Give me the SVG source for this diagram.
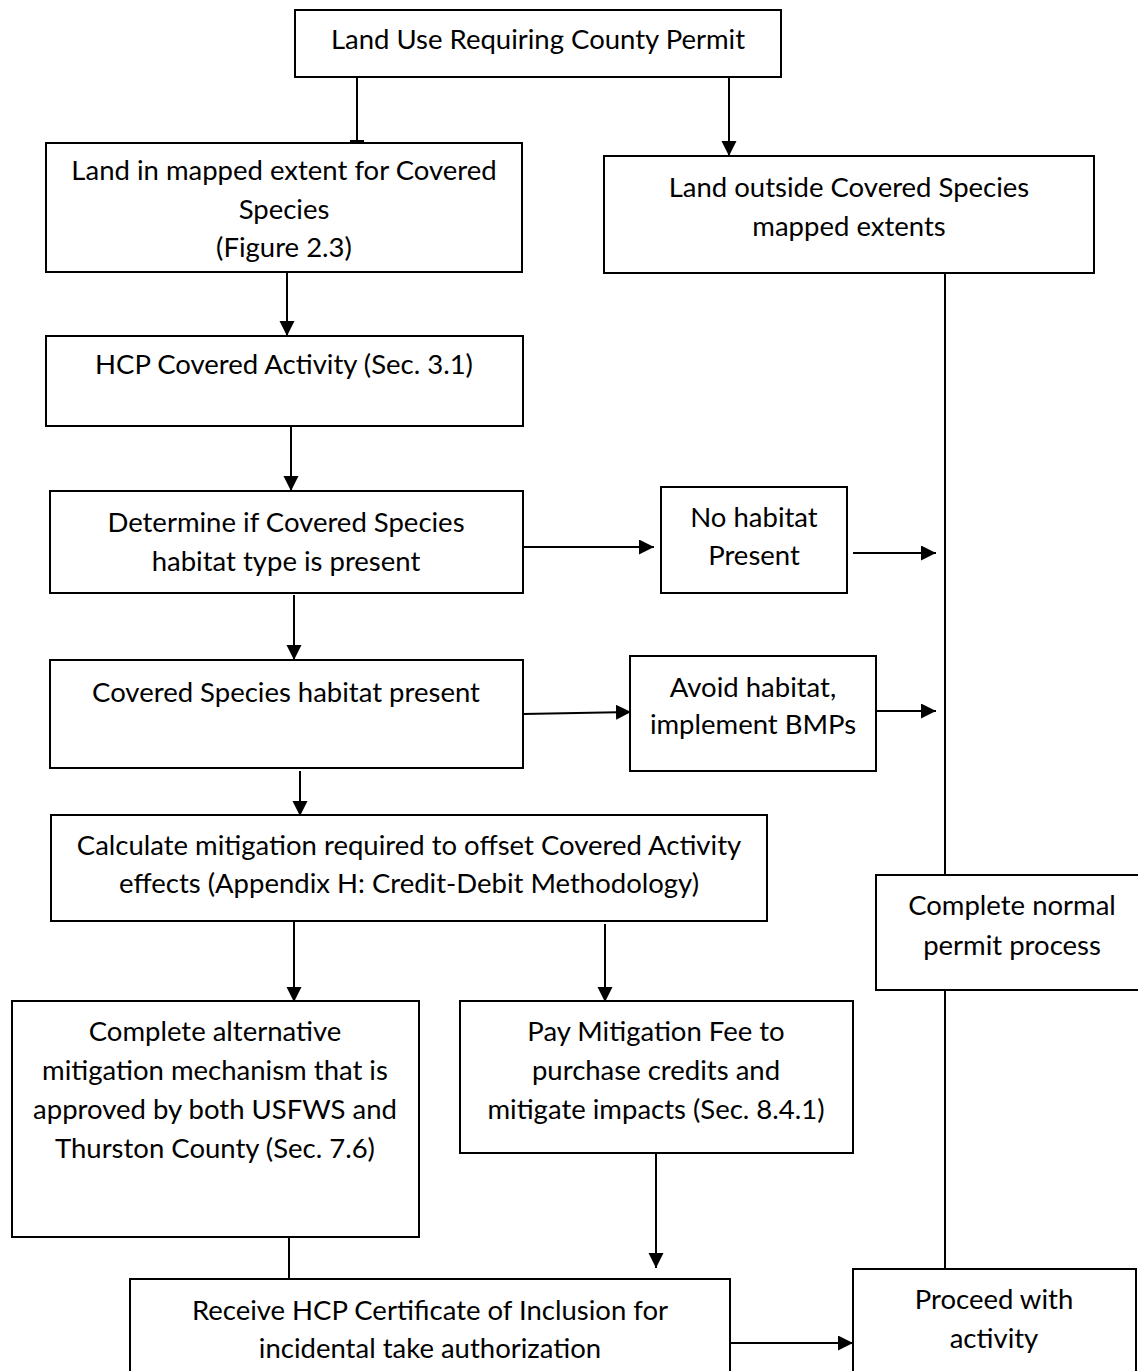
<svg xmlns="http://www.w3.org/2000/svg" width="1138" height="1371" viewBox="0 0 1138 1371">
<defs>
<style>
.box{fill:#fff;stroke:#000;stroke-width:2}
.t{font-family:Lato,"Liberation Sans",sans-serif;font-size:27.5px;fill:#000;text-anchor:middle}
.c{stroke:#000;stroke-width:2;fill:none}
.a{marker-end:url(#ah)}
</style>
<marker id="ah" markerUnits="userSpaceOnUse" markerWidth="16" markerHeight="16" refX="15" refY="7.5" orient="auto">
<path d="M0,0 L15,7.5 L0,15 Z" fill="#000"/>
</marker>
</defs>
<rect width="1138" height="1371" fill="#fff"/>
<g id="connectors">
<line class="c" x1="357" y1="77" x2="357" y2="142"/>
<line class="c" x1="350" y1="141" x2="364" y2="141"/>
<line class="c a" x1="729" y1="77" x2="729" y2="156"/>
<line class="c a" x1="287" y1="272" x2="287" y2="336"/>
<line class="c a" x1="291" y1="421" x2="291" y2="491"/>
<line class="c a" x1="294" y1="595" x2="294" y2="660"/>
<line class="c a" x1="300" y1="771" x2="300" y2="816"/>
<line class="c a" x1="294" y1="921" x2="294" y2="1002"/>
<line class="c a" x1="605" y1="924" x2="605" y2="1002"/>
<line class="c a" x1="656" y1="1153" x2="656" y2="1268"/>
<line class="c" x1="289" y1="1237" x2="289" y2="1279"/>
<line class="c a" x1="730" y1="1343" x2="853" y2="1343"/>
<line class="c" x1="945" y1="273" x2="945" y2="875"/>
<line class="c" x1="945" y1="990" x2="945" y2="1269"/>
<line class="c a" x1="523" y1="547" x2="654" y2="547"/>
<line class="c a" x1="853" y1="553" x2="936" y2="553"/>
<line class="c a" x1="523" y1="714" x2="631" y2="712"/>
<line class="c a" x1="876" y1="711" x2="936" y2="711"/>
</g>
<g id="n1"><rect class="box" x="295" y="10" width="486" height="67"/>
<text class="t" x="538" y="49">Land Use Requiring County Permit</text></g>
<g id="n2"><rect class="box" x="46" y="143" width="476" height="129"/>
<text class="t" x="284" y="180">Land in mapped extent for Covered</text>
<text class="t" x="284" y="219">Species</text>
<text class="t" x="284" y="257">(Figure 2.3)</text></g>
<g id="n3"><rect class="box" x="604" y="156" width="490" height="117"/>
<text class="t" x="849" y="197">Land outside Covered Species</text>
<text class="t" x="849" y="236">mapped extents</text></g>
<g id="n4"><rect class="box" x="46" y="336" width="477" height="90"/>
<text class="t" x="284" y="374">HCP Covered Activity (Sec. 3.1)</text></g>
<g id="n5"><rect class="box" x="50" y="491" width="473" height="102"/>
<text class="t" x="286" y="532">Determine if Covered Species</text>
<text class="t" x="286" y="571">habitat type is present</text></g>
<g id="n6"><rect class="box" x="50" y="660" width="473" height="108"/>
<text class="t" x="286" y="702">Covered Species habitat present</text></g>
<g id="n7"><rect class="box" x="51" y="815" width="716" height="106"/>
<text class="t" x="409" y="855">Calculate mitigation required to offset Covered Activity</text>
<text class="t" x="409" y="893">effects (Appendix H: Credit-Debit Methodology)</text></g>
<g id="n8"><rect class="box" x="12" y="1001" width="407" height="236"/>
<text class="t" x="215" y="1041">Complete alternative</text>
<text class="t" x="215" y="1080">mitigation mechanism that is</text>
<text class="t" x="215" y="1119">approved by both USFWS and</text>
<text class="t" x="215" y="1158">Thurston County (Sec. 7.6)</text></g>
<g id="n9"><rect class="box" x="460" y="1001" width="393" height="152"/>
<text class="t" x="656" y="1041">Pay Mitigation Fee to</text>
<text class="t" x="656" y="1080">purchase credits and</text>
<text class="t" x="656" y="1119">mitigate impacts (Sec. 8.4.1)</text></g>
<g id="n10"><rect class="box" x="130" y="1279" width="600" height="110"/>
<text class="t" x="430" y="1320">Receive HCP Certificate of Inclusion for</text>
<text class="t" x="430" y="1358">incidental take authorization</text></g>
<g id="n11"><rect class="box" x="853" y="1269" width="283" height="120"/>
<text class="t" x="994" y="1309">Proceed with</text>
<text class="t" x="994" y="1348">activity</text></g>
<g id="n12"><rect class="box" x="876" y="875" width="274" height="115"/>
<text class="t" x="1012" y="915">Complete normal</text>
<text class="t" x="1012" y="955">permit process</text></g>
<g id="n13"><rect class="box" x="661" y="487" width="186" height="106"/>
<text class="t" x="754" y="527">No habitat</text>
<text class="t" x="754" y="565">Present</text></g>
<g id="n14"><rect class="box" x="630" y="656" width="246" height="115"/>
<text class="t" x="753" y="697">Avoid habitat,</text>
<text class="t" x="753" y="734">implement BMPs</text></g>
</svg>
